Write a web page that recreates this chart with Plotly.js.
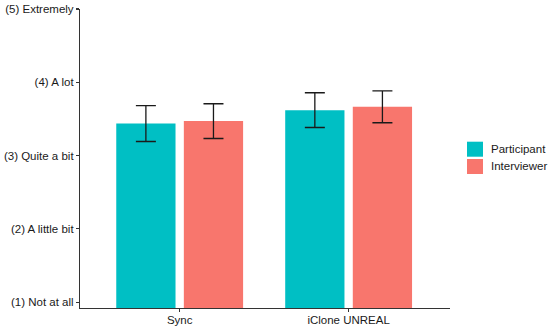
<!DOCTYPE html>
<html>
<head>
<meta charset="utf-8">
<script src="https://cdn.plot.ly/plotly-3.0.1.min.js"></script>
<style>html,body{margin:0;padding:0;background:#fff}#chart{width:550px;height:328px}</style>
</head>
<body>
<div id="chart"></div>
<script>
const categories = ["Sync", "iClone UNREAL"];
const seriesNames = ["Participant", "Interviewer"];
const participantMeans = [3.437, 3.620];
const participantErr = [0.245, 0.237];
const interviewerMeans = [3.470, 3.665];
const interviewerErr = [0.237, 0.217];
const yTickVals = [1, 2, 3, 4, 5];
const yTickText = ["(1) Not at all", "(2) A little bit", "(3) Quite a bit", "(4) A lot", "(5) Extremely"];
const seriesColors = ["#00BFC4", "#F8766D"];

const fam = "Liberation Sans, Arial, sans-serif";
const errStyle = {type: "data", visible: true, color: "#1a1a1a", thickness: 1.3, width: 10};

const traces = [
  {type: "bar", name: seriesNames[0], x: categories, y: participantMeans,
   base: 0, marker: {color: seriesColors[0]}, showlegend: false,
   error_y: Object.assign({array: participantErr}, errStyle)},
  {type: "bar", name: seriesNames[1], x: categories, y: interviewerMeans,
   base: 0, marker: {color: seriesColors[1]}, showlegend: false,
   error_y: Object.assign({array: interviewerErr}, errStyle)}
];

// manual legend (paper coordinates)
const legX0 = 1.0459, legX1 = 1.0892, legTextX = 1.1054;
const legRows = [[0.5562, 0.5060], [0.4983, 0.4482]];
const shapes = legRows.map((r, i) => ({
  type: "rect", xref: "paper", yref: "paper", x0: legX0, x1: legX1, y0: r[1], y1: r[0],
  fillcolor: seriesColors[i], line: {width: 0}
}));
const annotations = legRows.map((r, i) => ({
  xref: "paper", yref: "paper", x: legTextX, y: (r[0] + r[1]) / 2,
  xanchor: "left", yanchor: "middle", showarrow: false, text: seriesNames[i],
  font: {family: fam, size: 11.5, color: "#1a1a1a"}
}));

const layout = {
  width: 550, height: 328,
  margin: {l: 80, r: 100, t: 9, b: 20, pad: 0},
  paper_bgcolor: "#ffffff", plot_bgcolor: "#ffffff",
  font: {family: fam, size: 11.5, color: "#1a1a1a"},
  barmode: "group", bargap: 0.2, bargroupgap: 0.123,
  showlegend: false,
  shapes: shapes, annotations: annotations,
  xaxis: {type: "category", range: [-0.59, 1.6], showgrid: false, zeroline: false,
          showline: true, linecolor: "#333333", linewidth: 1.1, automargin: false,
          ticks: "outside", ticklen: 3, tickcolor: "#333333", tickwidth: 1.1,
          ticklabelstandoff: -2,
          tickfont: {family: fam, size: 11.5, color: "#1a1a1a"}, fixedrange: true},
  yaxis: {range: [0.92, 5.0], showgrid: false, zeroline: false, automargin: false,
          showline: true, linecolor: "#333333", linewidth: 1.1,
          ticks: "outside", ticklen: 3, tickcolor: "#333333", tickwidth: 1.1,
          tickvals: yTickVals, ticktext: yTickText,
          tickfont: {family: fam, size: 11.5, color: "#1a1a1a"}, fixedrange: true}
};

Plotly.newPlot("chart", traces, layout, {displayModeBar: false, staticPlot: true});
</script>
</body>
</html>
